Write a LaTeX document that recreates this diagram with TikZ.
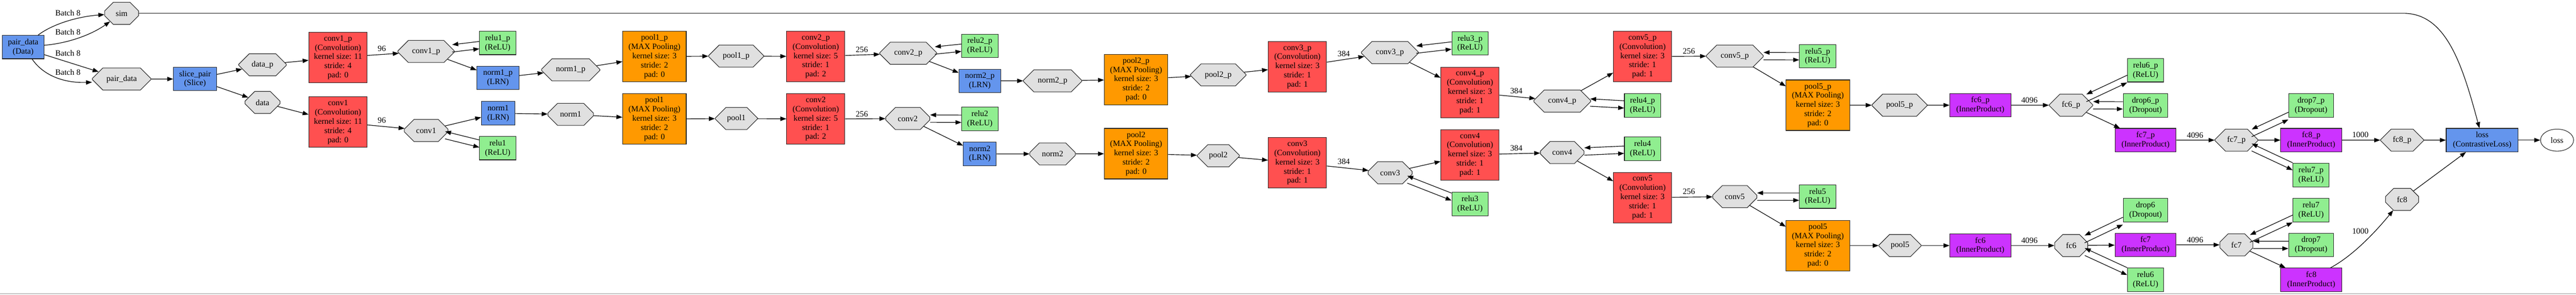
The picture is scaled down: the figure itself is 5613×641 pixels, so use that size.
\documentclass[tikz,border=0pt]{standalone}
\usepackage{fontspec}
\setmainfont{Liberation Serif}
\usetikzlibrary{arrows.meta,shapes.misc,shapes.geometric}
\definecolor{cblue}{HTML}{6495ED}
\definecolor{cred}{HTML}{FF5050}
\definecolor{corange}{HTML}{FF9900}
\definecolor{cpurple}{HTML}{CC33FF}
\definecolor{cgreen}{HTML}{90EE90}
\definecolor{cblob}{HTML}{E0E0E0}
\begin{document}
\begin{tikzpicture}[x=1pt,y=-1pt,
  font=\fontsize{17.8}{20}\selectfont,
  box/.style={draw=black!85, line width=1.2pt, rectangle, inner sep=0pt, align=center, minimum width=#1pt, minimum height=51pt},
  tall/.style={minimum height=110pt},
  conv/.style={box=127, tall, fill=cred},
  pool/.style={box=138.5, tall, fill=corange},
  ip/.style={box=133, fill=cpurple},
  relu/.style={box=79, fill=cgreen},
  drop/.style={box=97.5, fill=cgreen},
  lrn/.style={box=#1, fill=cblue},
  blob/.style={chamfered rectangle, draw=black!85, line width=1.2pt, fill=cblob, inner sep=0pt,
    minimum width=#1pt, minimum height=48pt,
    chamfered rectangle xsep={0.29*#1pt}, chamfered rectangle ysep=15pt},
  link/.style={draw=black, line width=1.3pt, -{Triangle[length=13pt,width=9.5pt]}},
  lbl/.style={inner sep=0pt},
  rtob/.style={transform canvas={yshift=8pt}},
  btor/.style={transform canvas={yshift=-8pt}}]
\useasboundingbox (0,0) rectangle (5613,641);
\fill[white] (0,0) rectangle (5613,641);
\draw[gray!80, line width=1pt] (0,639.5) -- (5613,639.5);

% nodes
\node[box=91, fill=cblue] (pdata) at (50.5,102.5) {pair\_data\\(Data)};
\node[blob=74] (sim) at (265,29) {sim};
\node[blob=128] (pairblob) at (265,172) {pair\_data};
\node[box=94, fill=cblue] (slice) at (425,172) {slice\_pair\\(Slice)};
\node[blob=104] (datap) at (572,141) {data\_p};
\node[blob=76] (datab) at (572,223) {data};
\node[conv] (conv1p) at (736.5,125) {conv1\_p\\(Convolution)\\kernel size: 11\\stride: 4\\pad: 0};
\node[conv] (conv1) at (736.5,266) {conv1\\(Convolution)\\kernel size: 11\\stride: 4\\pad: 0};
\node[blob=123] (conv1pb) at (928.5,112) {conv1\_p};
\node[blob=95] (conv1b) at (928.5,284) {conv1};
\node[relu] (relu1p) at (1084.5,93.5) {relu1\_p\\(ReLU)};
\node[lrn=92] (norm1p) at (1085,169.5) {norm1\_p\\(LRN)};
\node[lrn=73] (norm1) at (1085.5,246.5) {norm1\\(LRN)};
\node[relu] (relu1) at (1084.5,322.5) {relu1\\(ReLU)};
\node[blob=127] (norm1pb) at (1243.5,152) {norm1\_p};
\node[blob=99] (norm1b) at (1243.5,249) {norm1};
\node[pool] (pool1p) at (1426,123) {pool1\_p\\(MAX Pooling)\\kernel size: 3\\stride: 2\\pad: 0};
\node[pool] (pool1) at (1426,259) {pool1\\(MAX Pooling)\\kernel size: 3\\stride: 2\\pad: 0};
\node[blob=120] (pool1pb) at (1604,122) {pool1\_p};
\node[blob=92] (pool1b) at (1604.5,258) {pool1};
\node[conv] (conv2p) at (1777.5,123) {conv2\_p\\(Convolution)\\kernel size: 5\\stride: 1\\pad: 2};
\node[conv] (conv2) at (1777.5,259) {conv2\\(Convolution)\\kernel size: 5\\stride: 1\\pad: 2};
\node[blob=124] (conv2pb) at (1979,116) {conv2\_p};
\node[blob=96] (conv2b) at (1978,258) {conv2};
\node[relu] (relu2p) at (2135,99.7) {relu2\_p\\(ReLU)};
\node[lrn=91] (norm2p) at (2135,176) {norm2\_p\\(LRN)};
\node[relu] (relu2) at (2135,258.6) {relu2\\(ReLU)};
\node[lrn=72] (norm2) at (2135,335) {norm2\\(LRN)};
\node[blob=127] (norm2pb) at (2293.5,176) {norm2\_p};
\node[blob=99] (norm2b) at (2293.5,335) {norm2};
\node[pool] (pool2p) at (2475.5,173) {pool2\_p\\(MAX Pooling)\\kernel size: 3\\stride: 2\\pad: 0};
\node[pool] (pool2) at (2475.5,334.5) {pool2\\(MAX Pooling)\\kernel size: 3\\stride: 2\\pad: 0};
\node[blob=121] (pool2pb) at (2654.5,163) {pool2\_p};
\node[blob=92] (pool2b) at (2654.6,339) {pool2};
\node[conv] (conv3p) at (2827,145) {conv3\_p\\(Convolution)\\kernel size: 3\\stride: 1\\pad: 1};
\node[conv] (conv3) at (2827,354.5) {conv3\\(Convolution)\\kernel size: 3\\stride: 1\\pad: 1};
\node[blob=124] (conv3pb) at (3028.5,114.5) {conv3\_p};
\node[blob=96] (conv3b) at (3029,376) {conv3};
\node[relu] (relu3p) at (3203,94.5) {relu3\_p\\(ReLU)};
\node[conv] (conv4p) at (3203,201) {conv4\_p\\(Convolution)\\kernel size: 3\\stride: 1\\pad: 1};
\node[conv] (conv4) at (3203,337) {conv4\\(Convolution)\\kernel size: 3\\stride: 1\\pad: 1};
\node[relu] (relu3) at (3203,444) {relu3\\(ReLU)};
\node[blob=124] (conv4pb) at (3404,220) {conv4\_p};
\node[blob=95] (conv4b) at (3404,332) {conv4};
\node[conv] (conv5p) at (3579,123) {conv5\_p\\(Convolution)\\kernel size: 3\\stride: 1\\pad: 1};
\node[relu] (relu4p) at (3579,229.4) {relu4\_p\\(ReLU)};
\node[relu] (relu4) at (3579,324) {relu4\\(ReLU)};
\node[conv] (conv5) at (3579,430) {conv5\\(Convolution)\\kernel size: 3\\stride: 1\\pad: 1};
\node[blob=124] (conv5pb) at (3780,122) {conv5\_p};
\node[blob=96] (conv5b) at (3780,428) {conv5};
\node[relu] (relu5p) at (3960.5,122.5) {relu5\_p\\(ReLU)};
\node[pool] (pool5p) at (3961,229) {pool5\_p\\(MAX Pooling)\\kernel size: 3\\stride: 2\\pad: 0};
\node[relu] (relu5) at (3960.5,428) {relu5\\(ReLU)};
\node[pool] (pool5) at (3961,534.5) {pool5\\(MAX Pooling)\\kernel size: 3\\stride: 2\\pad: 0};
\node[blob=120] (pool5pb) at (4139,229) {pool5\_p};
\node[blob=92] (pool5b) at (4140,534.5) {pool5};
\node[ip] (fc6p) at (4315,229) {fc6\_p\\(InnerProduct)};
\node[ip] (fc6) at (4315,534.5) {fc6\\(InnerProduct)};
\node[blob=95] (fc6pb) at (4512.6,229) {fc6\_p};
\node[blob=72] (fc6b) at (4513,534.5) {fc6};
\node[relu] (relu6p) at (4675,153) {relu6\_p\\(ReLU)};
\node[drop] (drop6p) at (4675,229.4) {drop6\_p\\(Dropout)};
\node[ip] (fc7p) at (4675,305) {fc7\_p\\(InnerProduct)};
\node[drop] (drop6) at (4675,457.5) {drop6\\(Dropout)};
\node[ip] (fc7) at (4675,533) {fc7\\(InnerProduct)};
\node[relu] (relu6) at (4675,609) {relu6\\(ReLU)};
\node[blob=94] (fc7pb) at (4873,305) {fc7\_p};
\node[blob=72] (fc7b) at (4873,533) {fc7};
\node[drop] (drop7p) at (5035.6,229.4) {drop7\_p\\(Dropout)};
\node[ip] (fc8p) at (5036,305) {fc8\_p\\(InnerProduct)};
\node[relu] (relu7p) at (5035.6,381) {relu7\_p\\(ReLU)};
\node[relu] (relu7) at (5035.6,457.5) {relu7\\(ReLU)};
\node[drop] (drop7) at (5035.6,533) {drop7\\(Dropout)};
\node[ip] (fc8) at (5036,609) {fc8\\(InnerProduct)};
\node[blob=94] (fc8pb) at (5234,305) {fc8\_p};
\node[blob=72] (fc8b) at (5234,434) {fc8};
\node[box=157, fill=cblue] (lossbox) at (5408.5,305) {loss\\(ContrastiveLoss)};
\node[ellipse, draw=black!85, line width=1.2pt, minimum width=72pt, minimum height=48pt, inner sep=0pt] (lossout) at (5571.7,305) {loss};

% edges from the data layer
\draw[link] ([xshift=32.5pt]pdata.north) .. controls (115,52) and (170,36) .. (sim) node[lbl, at={(148,28)}] {Batch 8};
\draw[link] ([yshift=4pt]pdata.east) .. controls (150,94) and (200,75) .. (sim) node[lbl, at={(148,69.5)}] {Batch 8};
\draw[link] ([yshift=-16.5pt]pdata.east) -- (pairblob) node[lbl, at={(148,116)}] {Batch 8};
\draw[link] ([xshift=19.5pt]pdata.south) .. controls (95,165) and (140,181) .. ([yshift=-7pt]pairblob.west) node[lbl, at={(148,157)}] {Batch 8};
\draw[link] (sim) -- (5237,29) .. controls (5330,29) and (5365,140) .. ([xshift=-6pt]lossbox.north);
\draw[link] (pairblob) -- (slice);
\draw[link] (slice) -- (datap);
\draw[link] (slice) -- (datab);
\draw[link] (datap) -- (conv1p);
\draw[link] (datab) -- (conv1);
% stage 1
\draw[link] (conv1p) -- (conv1pb) node[lbl, at={(832,106)}] {96};
\draw[link] (conv1) -- (conv1b) node[lbl, at={(832,262)}] {96};
\draw[link, rtob] (relu1p) -- (conv1pb);
\draw[link, btor] (conv1pb) -- (relu1p);
\draw[link, rtob] (relu1) -- (conv1b);
\draw[link, btor] (conv1b) -- (relu1);
\draw[link] (conv1pb) -- (norm1p);
\draw[link] (conv1b) -- (norm1);
\draw[link] (norm1p) -- (norm1pb);
\draw[link] (norm1) -- (norm1b);
\draw[link] (norm1pb) -- (pool1p);
\draw[link] (norm1b) -- (pool1);
\draw[link] (pool1p) -- (pool1pb);
\draw[link] (pool1) -- (pool1b);
\draw[link] (pool1pb) -- (conv2p);
\draw[link] (pool1b) -- (conv2);
% stage 2
\draw[link] (conv2p) -- (conv2pb) node[lbl, at={(1878,108)}] {256};
\draw[link] (conv2) -- (conv2b) node[lbl, at={(1878,248)}] {256};
\draw[link, rtob] (relu2p) -- (conv2pb);
\draw[link, btor] (conv2pb) -- (relu2p);
\draw[link, rtob] (relu2) -- (conv2b);
\draw[link, btor] (conv2b) -- (relu2);
\draw[link] (conv2pb) -- (norm2p);
\draw[link] (conv2b) -- (norm2);
\draw[link] (norm2p) -- (norm2pb);
\draw[link] (norm2) -- (norm2b);
\draw[link] (norm2pb) -- (pool2p);
\draw[link] (norm2b) -- (pool2);
\draw[link] (pool2p) -- (pool2pb);
\draw[link] (pool2) -- (pool2b);
\draw[link] (pool2pb) -- (conv3p);
\draw[link] (pool2b) -- (conv3);
% stage 3
\draw[link] (conv3p) -- (conv3pb) node[lbl, at={(2928,117)}] {384};
\draw[link] (conv3) -- (conv3b) node[lbl, at={(2928,352)}] {384};
\draw[link, rtob] (relu3p) -- (conv3pb);
\draw[link, btor] (conv3pb) -- (relu3p);
\draw[link, rtob] (relu3) -- (conv3b);
\draw[link, btor] (conv3b) -- (relu3);
\draw[link] (conv3pb) -- (conv4p);
\draw[link] (conv3b) -- (conv4);
% stage 4
\draw[link] (conv4p) -- (conv4pb) node[lbl, at={(3304,198)}] {384};
\draw[link] (conv4) -- (conv4b) node[lbl, at={(3304,322)}] {384};
\draw[link, rtob] (relu4p) -- (conv4pb);
\draw[link, btor] (conv4pb) -- (relu4p);
\draw[link, rtob] (relu4) -- (conv4b);
\draw[link, btor] (conv4b) -- (relu4);
\draw[link] (conv4pb) -- (conv5p);
\draw[link] (conv4b) -- (conv5);
% stage 5
\draw[link] (conv5p) -- (conv5pb) node[lbl, at={(3680,111.6)}] {256};
\draw[link] (conv5) -- (conv5b) node[lbl, at={(3680,417)}] {256};
\draw[link, rtob] (relu5p) -- (conv5pb);
\draw[link, btor] (conv5pb) -- (relu5p);
\draw[link, rtob] (relu5) -- (conv5b);
\draw[link, btor] (conv5b) -- (relu5);
\draw[link] (conv5pb) -- (pool5p);
\draw[link] (conv5b) -- (pool5);
\draw[link] (pool5p) -- (pool5pb);
\draw[link] (pool5) -- (pool5b);
\draw[link] (pool5pb) -- (fc6p);
\draw[link] (pool5b) -- (fc6);
% fc6
\draw[link] (fc6p) -- (fc6pb) node[lbl, at={(4422,218)}] {4096};
\draw[link] (fc6) -- (fc6b) node[lbl, at={(4422,523)}] {4096};
\draw[link, rtob] (relu6p) -- (fc6pb);
\draw[link, btor] (fc6pb) -- (relu6p);
\draw[link, rtob] (drop6p) -- (fc6pb);
\draw[link, btor] (fc6pb) -- (drop6p);
\draw[link, rtob] (drop6) -- (fc6b);
\draw[link, btor] (fc6b) -- (drop6);
\draw[link, rtob] (relu6) -- (fc6b);
\draw[link, btor] (fc6b) -- (relu6);
\draw[link] (fc6pb) -- (fc7p);
\draw[link] (fc6b) -- (fc7);
% fc7
\draw[link] (fc7p) -- (fc7pb) node[lbl, at={(4783,294)}] {4096};
\draw[link] (fc7) -- (fc7b) node[lbl, at={(4783,522)}] {4096};
\draw[link, rtob] (drop7p) -- (fc7pb);
\draw[link, btor] (fc7pb) -- (drop7p);
\draw[link, rtob] (relu7p) -- (fc7pb);
\draw[link, btor] (fc7pb) -- (relu7p);
\draw[link, rtob] (relu7) -- (fc7b);
\draw[link, btor] (fc7b) -- (relu7);
\draw[link, rtob] (drop7) -- (fc7b);
\draw[link, btor] (fc7b) -- (drop7);
\draw[link] (fc7pb) -- (fc8p);
\draw[link] (fc7b) -- (fc8);
% fc8 and loss
\draw[link] (fc8p) -- (fc8pb) node[lbl, at={(5143,293.5)}] {1000};
\draw[link] ([xshift=42pt]fc8.north) .. controls (5130,555) and (5180,500) .. (fc8b) node[lbl, at={(5143,503.6)}] {1000};
\draw[link] (fc8pb) -- (lossbox);
\draw[link] (fc8b) -- (lossbox);
\draw[link] (lossbox) -- (lossout);
\end{tikzpicture}
\end{document}
